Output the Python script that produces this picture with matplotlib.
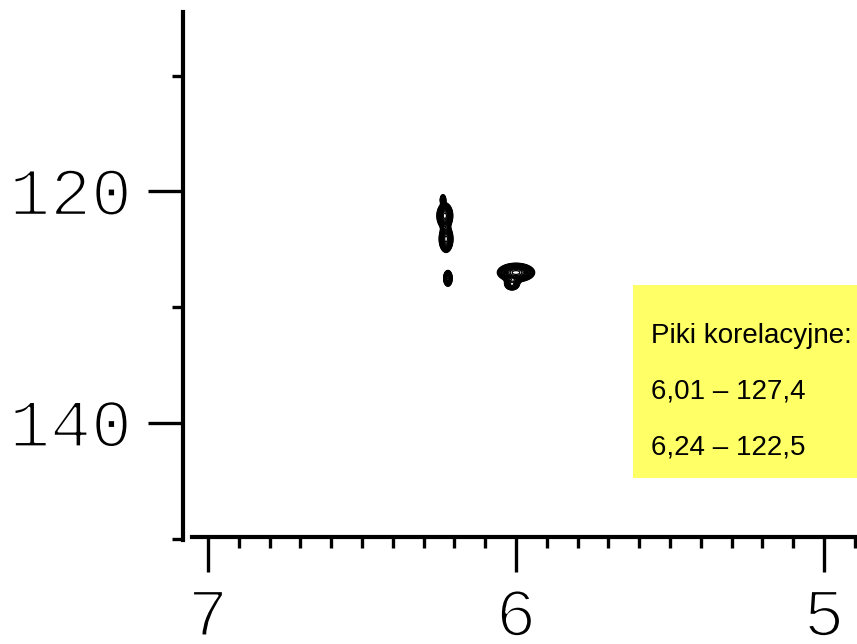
import numpy as np
import matplotlib
matplotlib.use("Agg")
import matplotlib.pyplot as plt
import matplotlib.patheffects as pe
from matplotlib.patches import Rectangle
from matplotlib.ticker import FixedLocator, MultipleLocator
from matplotlib.transforms import ScaledTranslation

# axis ticks (1H ppm on x, 13C ppm on y)
x_major = [7, 6, 5]
x_labels = ["7", "6", "5"]
y_major = [120, 140]
y_labels = ["120", "140"]
y_minor = [110, 130, 150]

# cross peaks: centre (1H, 13C), widths and relative intensity
peak_h = [6.237, 6.231, 6.227, 6.221, 6.000, 6.013]
peak_c = [120.7, 122.1, 124.1, 127.5, 127.0, 128.0]
sigma_h = [0.0045, 0.0115, 0.0100, 0.0065, 0.0270, 0.0120]
sigma_c = [0.22, 0.50, 0.52, 0.32, 0.36, 0.26]
amp = [0.5, 1.0, 1.0, 0.8, 1.0, 0.55]

box_lines = ["Piki korelacyjne:", "6,01 \u2013 127,4", "6,24 \u2013 122,5"]

fig = plt.figure(figsize=(8.57, 6.44), dpi=100)
ax = fig.add_axes([183 / 857, 104 / 644, 674 / 857, 528 / 644])

# spectrum grid
h = np.linspace(5.8, 6.45, 400)
c = np.linspace(117, 131, 400)
H, C = np.meshgrid(h, c)
Z = np.zeros_like(H)
for x0, y0, sx, sy, a in zip(peak_h, peak_c, sigma_h, sigma_c, amp):
    Z += a * np.exp(-((H - x0) ** 2 / (2 * sx ** 2) + (C - y0) ** 2 / (2 * sy ** 2)))
ax.contour(H, C, Z, levels=np.geomspace(0.08, 1.2, 20), colors="black", linewidths=0.9)

ax.set_xlim(7.081, 4.893)
ax.set_ylim(150.1, 104.5)

for s in ["top", "right"]:
    ax.spines[s].set_visible(False)
ax.spines["left"].set_linewidth(3)
ax.spines["bottom"].set_linewidth(3)
ax.spines["bottom"].set_position(("data", 149.85))
ax.spines["bottom"].set_bounds(7.052, 4.893)

ax.xaxis.set_major_locator(FixedLocator(x_major))
ax.set_xticklabels(x_labels)
ax.xaxis.set_minor_locator(MultipleLocator(0.1))
ax.yaxis.set_major_locator(FixedLocator(y_major))
ax.set_yticklabels(y_labels)
ax.yaxis.set_minor_locator(FixedLocator(y_minor))

ax.tick_params(which="major", length=25, width=2.4)
ax.tick_params(axis="y", which="major", pad=12)
ax.tick_params(axis="x", which="major", pad=10)
ax.tick_params(which="minor", length=8, width=2.4)
# thin the glyphs so they look like the light courier of the original
thin = [pe.Normal(), pe.Stroke(linewidth=1.8, foreground="white")]
for lab in ax.get_xticklabels() + ax.get_yticklabels():
    lab.set_family("Liberation Mono")
    lab.set_fontsize(49)
    lab.set_path_effects(thin)
shift = ScaledTranslation(0, -4 / 72, fig.dpi_scale_trans)
for lab in ax.get_yticklabels():
    lab.set_verticalalignment("center")
    lab.set_transform(lab.get_transform() + shift)

# yellow annotation box
fig.add_artist(Rectangle((633 / 857, 166 / 644), 224 / 857, 193 / 644,
                         transform=fig.transFigure, facecolor="#ffff66",
                         edgecolor="none"))
for i, line in enumerate(box_lines):
    fig.text(651 / 857, 1 - (336 + 56 * i) / 644, line, fontsize=20,
             family="Liberation Sans", va="center", ha="left")

fig.savefig("out.png", dpi=100)
